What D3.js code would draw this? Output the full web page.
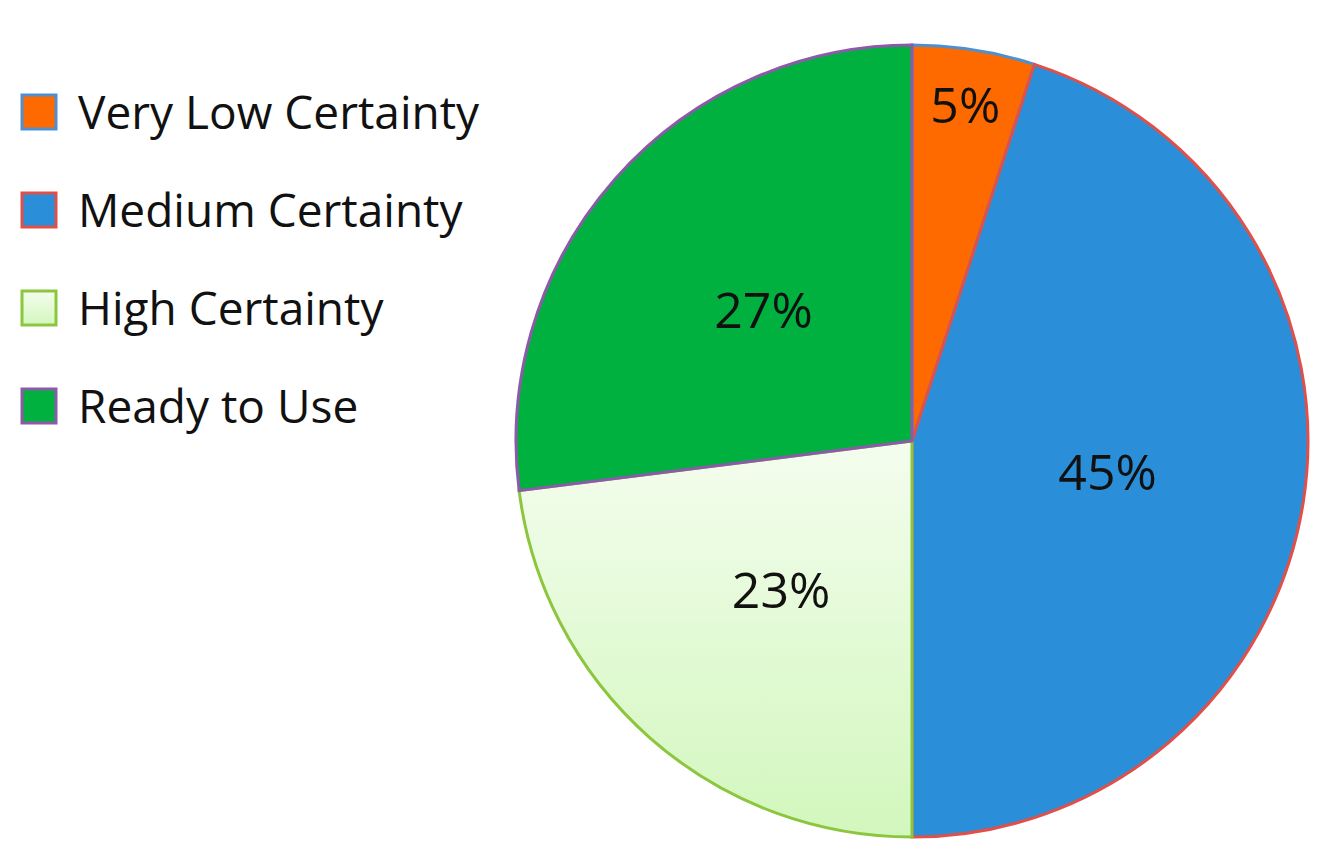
<!doctype html>
<html>
<head>
  <script src="https://d3js.org/d3.v7.min.js"></script>
  <style>
    body { margin: 0; background: #fff; }
    text { font-family: "Open Sans", "Noto Sans", sans-serif; }
  </style>
</head>
<body>
  <svg width="1330" height="864"></svg>
  <script>
    var categories = ["Very Low Certainty", "Medium Certainty", "High Certainty", "Ready to Use"]
    var values = [5, 45, 23, 27]
    var fills = ["#ff6a00", "#2a8fd8", "url(#lightGreen)", "#00b140"]
    var strokes = ["#4f8fd0", "#e0504a", "#8cc63f", "#8c5aa8"]

    var svg = d3.select("svg")
    var defs = svg.append("defs")
    var grad = defs.append("linearGradient").attr("id", "lightGreen")
      .attr("x1", 0).attr("y1", 0).attr("x2", 0).attr("y2", 1)
    grad.append("stop").attr("offset", "0%").attr("stop-color", "#f4fdee")
    grad.append("stop").attr("offset", "100%").attr("stop-color", "#d2f7bd")

    var cx = 912, cy = 441, R = 396

    var pie = d3.pie().sort(null).value(function(d) { return d })
    var arcs = pie(values)
    var arc = d3.arc().innerRadius(0).outerRadius(R)

    var g = svg.append("g").attr("transform", "translate(" + cx + "," + cy + ")")

    g.selectAll("path")
      .data(arcs)
      .enter()
      .append("path")
      .attr("d", arc)
      .attr("fill", function(d, i) { return fills[i] })
      .attr("stroke", function(d, i) { return strokes[i] })
      .attr("stroke-width", 3)

    g.selectAll("text.lbl")
      .data(arcs)
      .enter()
      .append("text")
      .attr("class", "lbl")
      .attr("transform", function(d) {
        // small slices get their label pushed out toward the rim
        var r = (d.data < 10) ? R * 0.86 : R * 0.5
        var c = d3.arc().innerRadius(r).outerRadius(r).centroid(d)
        return "translate(" + c[0] + "," + c[1] + ")"
      })
      .attr("text-anchor", "middle")
      .attr("dy", "0.36em")
      .attr("font-size", "50px")
      .attr("fill", "#111")
      .text(function(d) { return d.data + "%" })

    var legend = svg.append("g").attr("transform", "translate(22,95)")
    var items = legend.selectAll("g")
      .data(categories)
      .enter()
      .append("g")
      .attr("transform", function(d, i) { return "translate(0," + (i * 98) + ")" })

    items.append("rect")
      .attr("width", 34).attr("height", 34)
      .attr("fill", function(d, i) { return fills[i] })
      .attr("stroke", function(d, i) { return strokes[i] })
      .attr("stroke-width", 3)

    items.append("text")
      .attr("x", 56)
      .attr("y", 17)
      .attr("dy", "0.36em")
      .attr("font-size", "46px")
      .attr("fill", "#111")
      .text(function(d) { return d })
  </script>
</body>
</html>
